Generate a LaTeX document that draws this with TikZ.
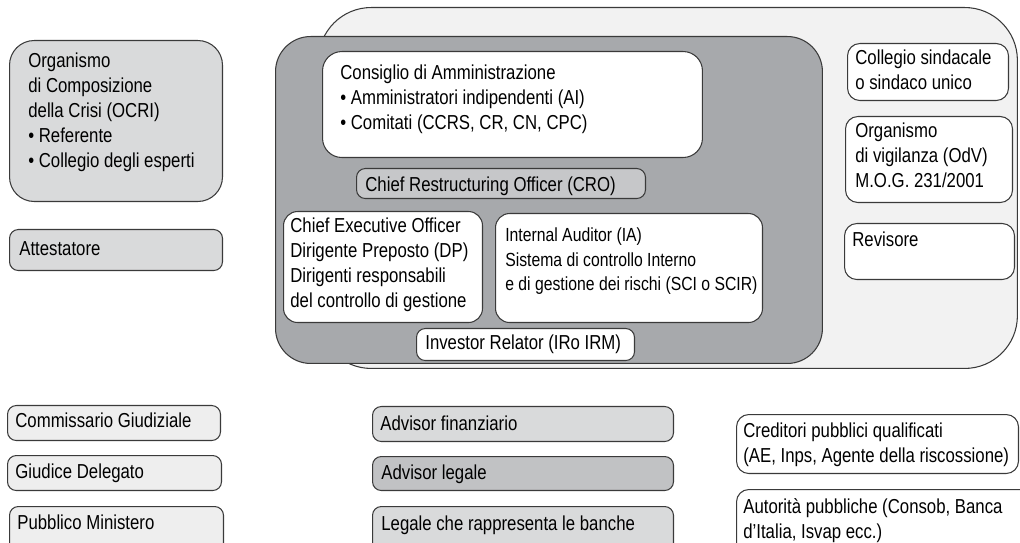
\documentclass[tikz,border=0pt]{standalone}
\usepackage{fontspec}
\setmainfont{Liberation Sans}[FakeStretch=0.83]
\definecolor{inkline}{HTML}{3A3A3A}
\definecolor{outerfill}{HTML}{F2F2F2}
\definecolor{corefill}{HTML}{A7A9AC}
\definecolor{crofill}{HTML}{C6C7C9}
\definecolor{midfill}{HTML}{D9DADB}
\definecolor{darkfill}{HTML}{C1C2C4}
\definecolor{palefill}{HTML}{EEEEEE}
\tikzset{
  box/.style={draw=inkline, line width=0.6pt, rectangle, rounded corners=5pt,
              anchor=north west, inner sep=0pt},
  txt/.style={anchor=north west, inner sep=0pt, align=left,
              font=\fontsize{11.5}{14.2}\selectfont, text=black}
}
\begin{document}
\begin{tikzpicture}[x=0.02cm, y=-0.02cm]
  \clip (0,0) rectangle (1020,543);
  % area della societa
  \node (ambit) [box, fill=outerfill, rounded corners=30pt,
                minimum width=13.98cm, minimum height=7.22cm] at (318,7) {};
  \node (core)  [box, fill=corefill, rounded corners=20pt,
                minimum width=10.94cm, minimum height=6.54cm] at (275,36) {};
  \node (cda)   [box, fill=white, rounded corners=11pt,
                minimum width=7.6cm, minimum height=2.12cm] at (322,51) {};
  \node (cro)   [box, fill=crofill,
                minimum width=5.78cm, minimum height=0.6cm] at (356,168) {};
  \node (ceo)   [box, fill=white, rounded corners=8pt,
                minimum width=3.98cm, minimum height=2.22cm] at (283,211) {};
  \node (ia)    [box, fill=white, rounded corners=8pt,
                minimum width=5.34cm, minimum height=2.18cm] at (495,213) {};
  \node (ir)    [box, fill=white,
                minimum width=4.36cm, minimum height=0.64cm] at (416,328) {};
  \node (coll)  [box, fill=white, rounded corners=7pt,
                minimum width=3.22cm, minimum height=1.14cm] at (847,43) {};
  \node (odv)   [box, fill=white, rounded corners=7pt,
                minimum width=3.34cm, minimum height=1.72cm] at (845,116) {};
  \node (rev)   [box, fill=white, rounded corners=7pt,
                minimum width=3.4cm, minimum height=1.12cm] at (844,223) {};
  % organismi esterni
  \node (ocri)  [box, fill=midfill, rounded corners=14pt,
                minimum width=4.26cm, minimum height=3.22cm] at (9,40) {};
  \node (att)   [box, fill=midfill,
                minimum width=4.26cm, minimum height=0.82cm] at (9,229) {};
  \node (comm)  [box, fill=palefill,
                minimum width=4.26cm, minimum height=0.7cm] at (7,405) {};
  \node (giud)  [box, fill=palefill,
                minimum width=4.28cm, minimum height=0.7cm] at (7,455) {};
  \node (pm)    [box, fill=palefill,
                minimum width=4.28cm, minimum height=1.1cm] at (9,506) {};
  \node (advf)  [box, fill=midfill,
                minimum width=6.02cm, minimum height=0.7cm] at (372,406) {};
  \node (advl)  [box, fill=darkfill,
                minimum width=6.02cm, minimum height=0.68cm] at (372,456) {};
  \node (leg)   [box, fill=midfill,
                minimum width=6.02cm, minimum height=1.1cm] at (372,506) {};
  \node (cred)  [box, fill=white, rounded corners=7pt,
                minimum width=5.64cm, minimum height=1.18cm] at (736,414) {};
  \node (aut)   [box, fill=white, rounded corners=7pt,
                minimum width=5.9cm, minimum height=1.4cm] at (736,489) {};
  % testi
  \node (cdat)  [txt] at (340,65)
                {Consiglio di Amministrazione\\
                 • Amministratori indipendenti (AI)\\
                 • Comitati (CCRS, CR, CN, CPC)};
  \node (crot)  [txt] at (365,177) {Chief Restructuring Officer (CRO)};
  \node (ceot)  [txt] at (290,218)
                {Chief Executive Officer\\
                 Dirigente Preposto (DP)\\
                 Dirigenti responsabili\\
                 del controllo di gestione};
  \node (iat)   [txt, font=\fontsize{10.8}{14.2}\selectfont] at (505,227)
                {Internal Auditor (IA)\\
                 Sistema di controllo Interno\\
                 e di gestione dei rischi (SCI o SCIR)};
  \node (irt)   [txt] at (425,335) {Investor Relator (IRo IRM)};
  \node (collt) [txt] at (855,50) {Collegio sindacale\\ o sindaco unico};
  \node (odvt)  [txt] at (855,123)
                {Organismo\\ di vigilanza (OdV)\\ M.O.G. 231/2001};
  \node (revt)  [txt] at (852,232) {Revisore};
  \node (ocrit) [txt] at (28,53)
                {Organismo\\
                 di Composizione\\
                 della Crisi (OCRI)\\
                 • Referente\\
                 • Collegio degli esperti};
  \node (attt)  [txt] at (19,241) {Attestatore};
  \node (commt) [txt] at (15,413) {Commissario Giudiziale};
  \node (giudt) [txt] at (15,464) {Giudice Delegato};
  \node (pmt)   [txt] at (17,515) {Pubblico Ministero};
  \node (advft) [txt] at (380,416) {Advisor finanziario};
  \node (advlt) [txt] at (381,465) {Advisor legale};
  \node (legt)  [txt] at (381,516) {Legale che rappresenta le banche};
  \node (credt) [txt] at (743,423)
                {Creditori pubblici qualificati\\
                 (AE, Inps, Agente della riscossione)};
  \node (autt)  [txt] at (743,498)
                {Autorità pubbliche (Consob, Banca\\
                 d’Italia, Isvap ecc.)};
\end{tikzpicture}
\end{document}
